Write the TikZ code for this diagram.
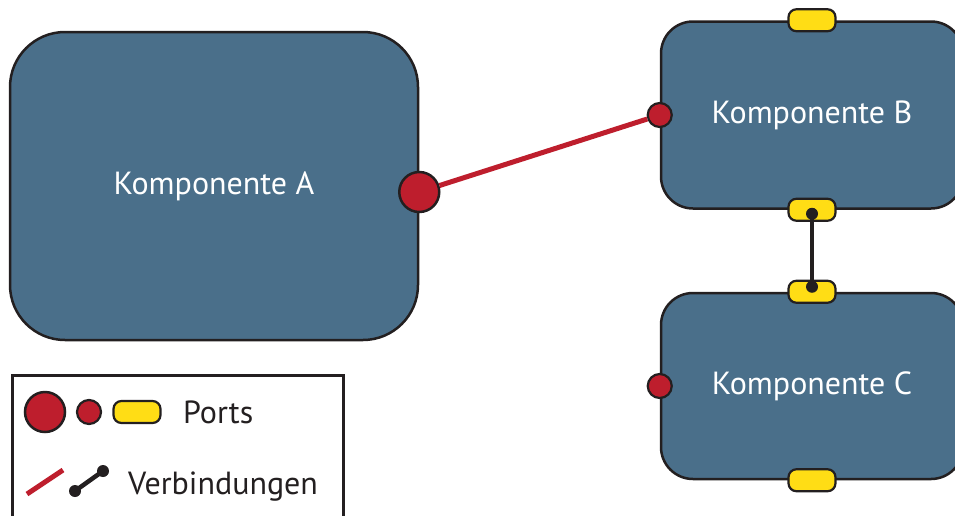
\documentclass[tikz,border=0pt]{standalone}
\usepackage{fontspec}
\setmainfont{PT Sans}
\definecolor{compfill}{HTML}{4A6F8A}
\definecolor{outline}{HTML}{231F20}
\definecolor{portred}{HTML}{BE1E2D}
\definecolor{portyellow}{HTML}{FFDD15}
\begin{document}
\begin{tikzpicture}[x=1pt,y=-1pt,
  comp/.style={draw=outline, line width=2.5pt, fill=compfill, text=white,
    font=\fontsize{32}{36}\selectfont, inner sep=0pt},
  bigport/.style={circle, draw=outline, line width=2.5pt, fill=portred,
    minimum size=40pt, inner sep=0pt},
  smallport/.style={circle, draw=outline, line width=2.2pt, fill=portred,
    minimum size=24pt, inner sep=0pt},
  pillport/.style={draw=outline, line width=2.2pt, fill=portyellow,
    rounded corners=8pt, minimum width=47pt, minimum height=22pt, inner sep=0pt},
  redline/.style={draw=portred, line width=5pt},
  blackline/.style={draw=outline, line width=4.5pt},
  dot/.style={circle, fill=outline, minimum size=12pt, inner sep=0pt},
  legendbox/.style={draw=outline, line width=2.5pt, fill=white},
  legendtext/.style={font=\fontsize{32}{36}\selectfont, text=outline, anchor=base west, inner sep=0pt},
]
\useasboundingbox (0,0) rectangle (955,515);

% components
\node[comp, rounded corners=55pt, minimum width=408pt, minimum height=308pt] (A) at (214,186) {Komponente A};
\node[comp, rounded corners=32pt, minimum width=302pt, minimum height=187pt] (B) at (812,115) {Komponente B};
\node[comp, rounded corners=32pt, minimum width=302pt, minimum height=186pt] (C) at (812,386) {Komponente C};

% ports
\node[bigport] (pA) at ([yshift=-6pt]A.east) {};
\node[smallport] (pB) at (B.west) {};
\node[smallport] (pC) at (C.west) {};
\node[pillport] (yB1) at (B.north) {};
\node[pillport] (yB2) at (B.south) {};
\node[pillport] (yC1) at (C.north) {};
\node[pillport] (yC2) at (C.south) {};

% connections
\draw[redline] (pA) -- (pB);
\coordinate (dB) at ([yshift=-4pt]yB2.center);
\coordinate (dC) at ([yshift=5pt]yC1.center);
\draw[blackline] (dB) -- (dC);
\node[dot] at (dB) {};
\node[dot] at (dC) {};

% legend
\node[legendbox, minimum width=331pt, minimum height=170pt, anchor=north west] (L) at (11,374) {};
\node[bigport] (lA) at (45,412) {};
\node[smallport] (lB) at (89,412) {};
\node[pillport] (lY) at (137,412) {};
\node[legendtext] (lp) at (183,423) {Ports};
\coordinate (lr1) at (27,494);
\coordinate (lr2) at (63,470);
\draw[redline] (lr1) -- (lr2);
\coordinate (lb1) at (75,491);
\coordinate (lb2) at (103,471);
\draw[blackline] (lb1) -- (lb2);
\node[dot] at (lb1) {};
\node[dot] at (lb2) {};
\node[legendtext] (lv) at (128,494) {Verbindungen};
\end{tikzpicture}
\end{document}
